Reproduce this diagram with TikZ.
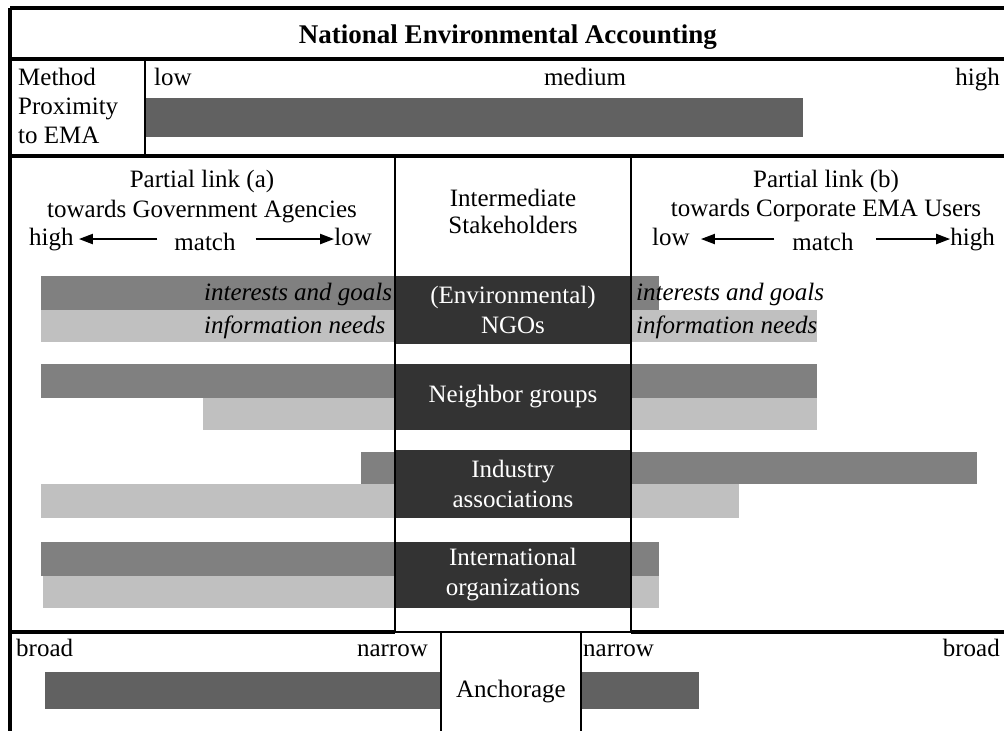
\documentclass[tikz,border=0pt]{standalone}
\usepackage{fontspec}
\setmainfont{Liberation Serif}
\usepackage{xcolor}
\usetikzlibrary{arrows.meta,positioning}

\definecolor{proxgray}{HTML}{616161}
\definecolor{goalgray}{HTML}{808080}
\definecolor{needgray}{HTML}{C0C0C0}
\definecolor{stakegray}{HTML}{333333}

\begin{document}
\begin{tikzpicture}[
  x=1pt, y=-1pt,
  label/.style={inner sep=0pt, font=\fontsize{25}{30}\selectfont},
  bartext/.style={label, font=\fontsize{25}{30}\selectfont\itshape, anchor=base west},
  stake/.style={rectangle, fill=stakegray, text=white, inner sep=0pt, minimum width=236pt,
    align=center, font=\fontsize{25}{30}\selectfont},
  frame/.style={line width=3.2pt},
  divider/.style={line width=2pt},
  matcharrow/.style={-{Triangle[length=14pt,width=10pt]}, line width=2pt},
]
  \useasboundingbox (0,0) rectangle (1004,731);

  % method proximity bar
  \fill[proxgray] (146,98) rectangle (803,137);

  % stakeholder bars (interests and goals / information needs)
  \fill[goalgray] (41,276) rectangle (659,310);
  \fill[needgray] (41,310) rectangle (817,342);
  \fill[goalgray] (41,364) rectangle (817,398);
  \fill[needgray] (203,398) rectangle (817,430);
  \fill[goalgray] (361,452) rectangle (977,484);
  \fill[needgray] (41,484) rectangle (739,518);
  \fill[goalgray] (41,542) rectangle (659,576);
  \fill[needgray] (43,576) rectangle (659,608);

  % anchorage bars
  \fill[proxgray] (45,672) rectangle (441,709);
  \fill[proxgray] (581,672) rectangle (699,709);

  % bar texts
  \node[bartext] (goalsA) at (204,300) {interests and goals};
  \node[bartext] (needsA) at (204,333) {information needs};
  \node[bartext] (goalsB) at (636,300) {interests and goals};
  \node[bartext] (needsB) at (636,333) {information needs};

  % intermediate stakeholders
  \node[stake, minimum height=68pt] (ngo) at (513,310) {(Environmental)\\NGOs};
  \node[stake, minimum height=66pt] (neighbor) at (513,397) {Neighbor groups};
  \node[stake, minimum height=68pt] (industry) at (513,484) {Industry\\associations};
  \node[stake, minimum height=66pt] (intl) at (513,575) {International\\organizations};

  % table frame
  \draw[frame] (10,8) -- (1004,8);
  \draw[frame] (10,8) -- (10,731);
  \draw[frame] (10,59) -- (1004,59);
  \draw[frame] (10,156) -- (1004,156);
  \draw[divider] (145,59) -- (145,156);
  \draw[divider] (395,156) rectangle (631,632);
  \draw[frame] (10,632) -- (395,632);
  \draw[frame] (631,632) -- (1004,632);
  \draw[divider] (441,632) -- (441,731);
  \draw[divider] (581,632) -- (581,731);

  % title and method proximity row
  \node[label, font=\fontsize{27}{30}\selectfont\bfseries, anchor=base] (title) at (508,43) {National Environmental Accounting};
  \node[label, anchor=base west] (method) at (18,85) {Method};
  \node[label, anchor=base west] (proximity) at (18,114) {Proximity};
  \node[label, anchor=base west] (toema) at (18,143) {to EMA};
  \node[label, anchor=base west] (proxlow) at (154,85) {low};
  \node[label, anchor=base] (proxmed) at (585,85) {medium};
  \node[label, anchor=base east] (proxhigh) at (1000,85) {high};

  % partial link (a)
  \node[label, anchor=base] (linkA) at (202,187) {Partial link (a)};
  \node[label, anchor=base] (towardsA) at (202,217) {towards Government Agencies};
  \node[label, anchor=base west] (highA) at (29,245) {high};
  \node[label, anchor=base] (matchA) at (205,250) {match};
  \node[label, anchor=base east] (lowA) at (372,245) {low};
  \draw[matcharrow, shorten <=17pt, shorten >=5pt] (matchA.west |- highA.east) -- (highA.east);
  \draw[matcharrow, shorten <=20pt] (matchA.east |- highA.east) -- (lowA.west |- highA.east);

  % middle column head
  \node[label, anchor=base] (interm) at (513,206) {Intermediate};
  \node[label, anchor=base] (stakeh) at (513,233) {Stakeholders};

  % partial link (b)
  \node[label, anchor=base] (linkB) at (826,187) {Partial link (b)};
  \node[label, anchor=base] (towardsB) at (826,216) {towards Corporate EMA Users};
  \node[label, anchor=base west] (lowB) at (652,245) {low};
  \node[label, anchor=base] (matchB) at (823,250) {match};
  \node[label, anchor=base east] (highB) at (995,245) {high};
  \draw[matcharrow, shorten <=18pt, shorten >=11pt] (matchB.west |- highB.west) -- (lowB.east |- highB.west);
  \draw[matcharrow, shorten <=22pt] (matchB.east |- highB.west) -- (highB.west);

  % anchorage row
  \node[label, anchor=base west] (broadA) at (16,656) {broad};
  \node[label, anchor=base east] (narrowA) at (428,656) {narrow};
  \node[label, anchor=base west] (narrowB) at (583,656) {narrow};
  \node[label, anchor=base east] (broadB) at (1000,656) {broad};
  \node[label, anchor=base] (anchorage) at (511,697) {Anchorage};
\end{tikzpicture}
\end{document}
